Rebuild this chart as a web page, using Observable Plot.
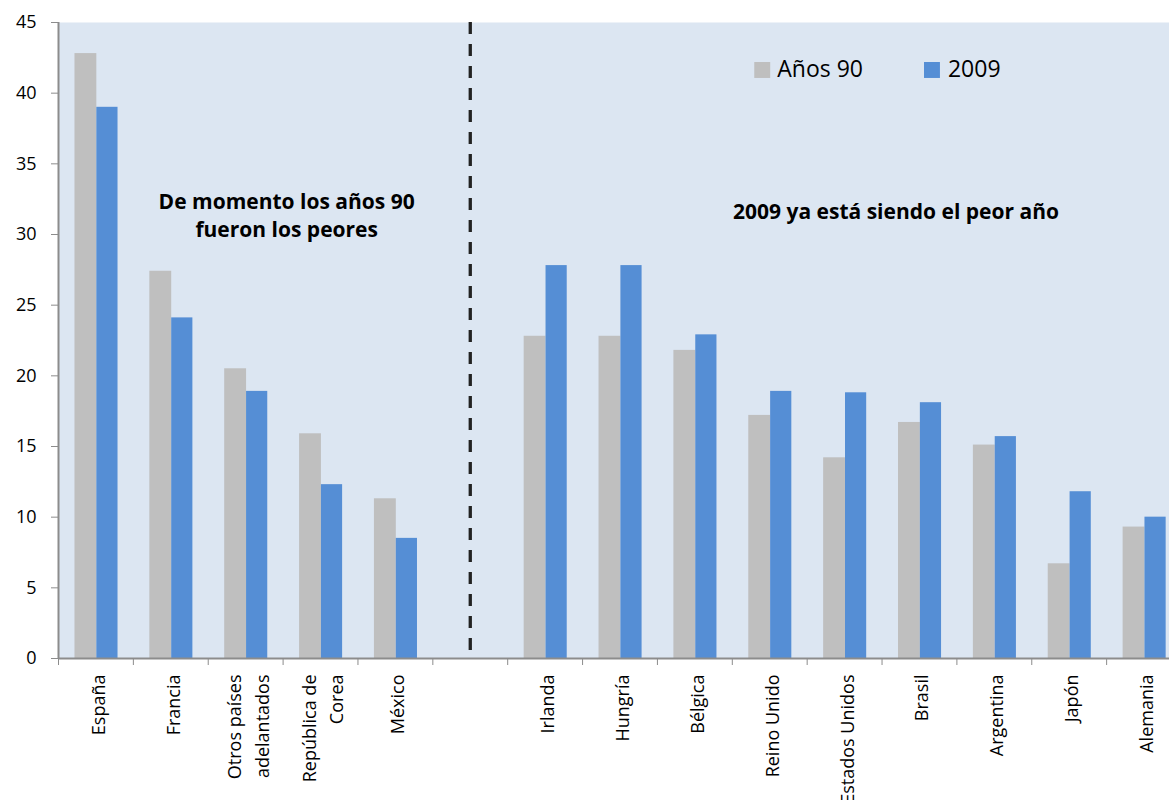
<!DOCTYPE html>
<html>
<head>
<meta charset="utf-8">
<script src="https://cdn.jsdelivr.net/npm/d3@7"></script>
<script src="https://cdn.jsdelivr.net/npm/@observablehq/plot@0.6"></script>
<style>
  html, body { margin: 0; padding: 0; overflow: hidden; background: #fff; }
  #chart svg { display: block; max-width: none !important; }
</style>
</head>
<body>
<div id="chart"></div>
<script>
// ---- Data ----
const categories = ["España", "Francia", "Otros países\nadelantados", "República de\nCorea", "México", " ",
  "Irlanda", "Hungría", "Bélgica", "Reino Unido", "Estados Unidos", "Brasil", "Argentina", "Japón", "Alemania"];
const seriesNames = ["Años 90", "2009"];
const valuesAnos90 = [42.8, 27.4, 20.5, 15.9, 11.3, null, 22.8, 22.8, 21.8, 17.2, 14.2, 16.7, 15.1, 6.7, 9.3];
const values2009   = [39.0, 24.1, 18.9, 12.3, 8.5, null, 27.8, 27.8, 22.9, 18.9, 18.8, 18.1, 15.7, 11.8, 10.0];
const yTicks = [0, 5, 10, 15, 20, 25, 30, 35, 40, 45];
const annotationLeft = "De momento los años 90\nfueron los peores";
const annotationRight = "2009 ya está siendo el peor año";

// ---- Styles ----
const colors = ["#bfbfbf", "#558ed5"];
const bg = "#dce6f2";
const axisGray = "#8c8c8c";
const font = "'Open Sans', sans-serif";

const rowsA = categories.map((c, i) => ({category: c, series: seriesNames[0], value: valuesAnos90[i]})).filter(d => d.value != null);
const rowsB = categories.map((c, i) => ({category: c, series: seriesNames[1], value: values2009[i]})).filter(d => d.value != null);

const width = 1181, height = 800, marginLeft = 58, marginRight = 0;
const step = (width - marginLeft - marginRight) / categories.length;

const chart = Plot.plot({
  width, height,
  marginLeft, marginRight,
  marginTop: 22,
  marginBottom: 142,
  style: {fontFamily: font, fontSize: "18px", background: "#fff", color: "#000", maxWidth: "none"},
  x: {type: "band", domain: categories, padding: 0, round: false, label: null},
  y: {domain: [0, 45], label: null},
  marks: [
    Plot.frame({fill: bg, stroke: null}),
    Plot.barY(rowsA, {x: "category", y: "value", fill: colors[0],
      insetLeft: 0.22 * step, insetRight: step - 0.512 * step}),
    Plot.barY(rowsB, {x: "category", y: "value", fill: colors[1],
      insetLeft: 0.512 * step, insetRight: step - 0.795 * step}),
    Plot.ruleY([0], {stroke: axisGray, strokeWidth: 2}),
    Plot.ruleX([categories[0]], {dx: -step / 2, stroke: axisGray, strokeWidth: 2}),
    Plot.ruleX([categories[5]], {stroke: "#222", strokeWidth: 3.3, strokeDasharray: "12,10"}),
    Plot.axisY({ticks: yTicks, tickSize: 7, tickPadding: 15, fontSize: 18, stroke: axisGray, fill: "#000", label: null}),
    Plot.axisX({tickSize: 7, tickFormat: () => "", dx: -step / 2, stroke: axisGray, label: null}),
    Plot.text(categories, {x: d => d, text: d => d, frameAnchor: "bottom", dy: 16, rotate: -90,
      textAnchor: "end", lineAnchor: "middle", lineHeight: 1.55, fontSize: 18, fill: "#000"}),
    Plot.text([annotationLeft], {x: () => categories[2], y: () => 29.8, text: d => d, dx: 41,
      fontWeight: "bold", fontSize: 21, lineAnchor: "bottom", lineHeight: 1.35, fill: "#000", textAnchor: "middle"}),
    Plot.text([annotationRight], {x: () => categories[11], y: () => 31.1, text: d => d, dx: -23.5,
      fontWeight: "bold", fontSize: 21, lineAnchor: "bottom", fill: "#000", textAnchor: "middle"}),
    Plot.dot([seriesNames[0]], {x: () => categories[9], y: () => 41.64, dx: -7.5, symbol: "square", r: 9, fill: colors[0], stroke: null}),
    Plot.text([seriesNames[0]], {x: () => categories[9], y: () => 41.64, dx: 7.5, text: d => d, textAnchor: "start", fontSize: 23, fill: "#000"}),
    Plot.dot([seriesNames[1]], {x: () => categories[11], y: () => 41.64, dx: 12.5, symbol: "square", r: 9, fill: colors[1], stroke: null}),
    Plot.text([seriesNames[1]], {x: () => categories[11], y: () => 41.64, dx: 28.5, text: d => d, textAnchor: "start", fontSize: 23, fill: "#000"})
  ]
});
document.getElementById("chart").append(chart);
</script>
</body>
</html>
